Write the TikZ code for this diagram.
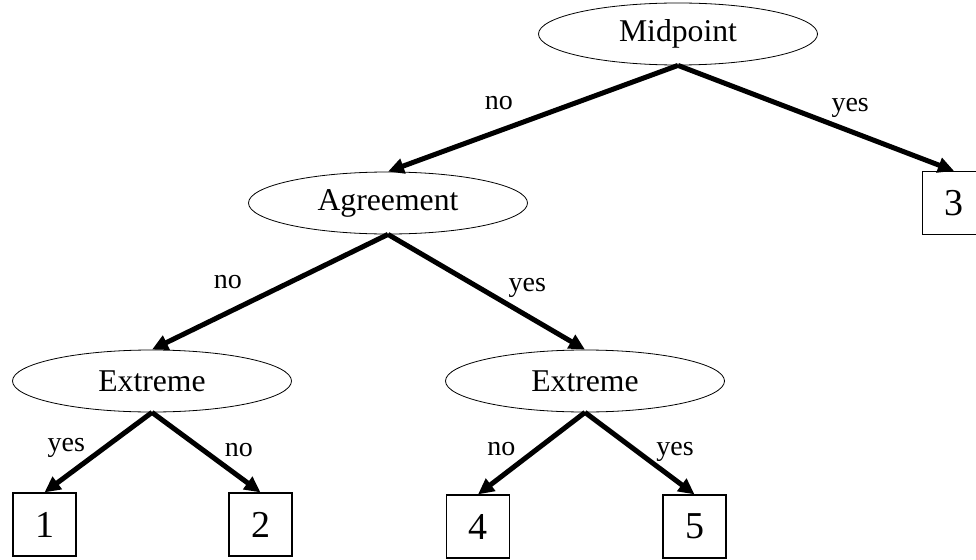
\documentclass[tikz,border=0pt]{standalone}
\usepackage{fontspec}
\setmainfont{Liberation Serif}
\usetikzlibrary{shapes.geometric, arrows.meta}

\begin{document}
\begin{tikzpicture}[x=1pt, y=-1pt, auto,
    test/.style={draw, ellipse, line width=0.8pt, minimum width=279pt, minimum height=62pt, font=\fontsize{31.7}{38}\selectfont},
    leaf/.style={draw, line width=1.2pt, minimum size=63pt, inner sep=0pt, font=\fontsize{38}{46}\selectfont},
    branch/.style={line width=5pt, -{Triangle[length=16pt,width=15pt]}},
    lbl/.style={font=\fontsize{28}{34}\selectfont, inner sep=9pt}]
  \useasboundingbox (0,0) rectangle (976,559);
  \node[test] (mid) at (678,34) {Midpoint};
  \node[test] (agr) at (388,203) {Agreement};
  \node[test] (ext1) at (152,381) {Extreme};
  \node[test] (ext2) at (585,381) {Extreme};
  \node[leaf] (out3) at (954,203) {3};
  \node[leaf] (out1) at (44.5,524.5) {1};
  \node[leaf] (out2) at (260.5,524.5) {2};
  \node[leaf] (out4) at (478,526.5) {4};
  \node[leaf] (out5) at (694.5,526.5) {5};
  \draw[branch] (mid.south) -- node[lbl, swap, pos=0.53] {no} (agr.north);
  \draw[branch] (mid.south) -- node[lbl, pos=0.54, inner sep=2pt] {yes} (out3.north);
  \draw[branch] (agr.south) -- node[lbl, swap, pos=0.57] {no} (ext1.north);
  \draw[branch] (agr.south) -- node[lbl, pos=0.59, inner sep=2pt] {yes} (ext2.north);
  \draw[branch] (ext1.south) -- node[lbl, swap, pos=0.6, inner sep=0pt] {yes} (out1.north);
  \draw[branch] (ext1.south) -- node[lbl, pos=0.62, inner sep=3pt] {no} (out2.north);
  \draw[branch] (ext2.south) -- node[lbl, swap, pos=0.6, inner sep=3pt] {no} (out4.north);
  \draw[branch] (ext2.south) -- node[lbl, pos=0.63, inner sep=0pt] {yes} (out5.north);
\end{tikzpicture}
\end{document}
